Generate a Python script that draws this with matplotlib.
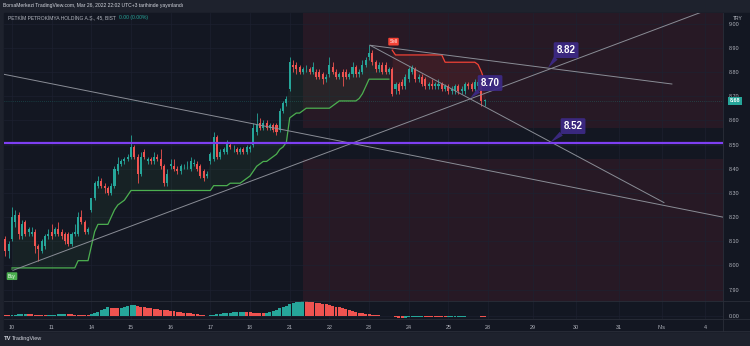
import numpy as np
import matplotlib.pyplot as plt
from matplotlib.patches import Rectangle
from matplotlib.lines import Line2D

plt.rcParams['font.family'] = ['Liberation Sans', 'DejaVu Sans']

# bar index: -2,-1 = 9 Mart, then 12 bars (45 dk) per trading day 10..25 Mart
bars = np.arange(-2, 144)

opens = [
    8.11, 8.06,
    8.11, 8.18, 8.21, 8.12, 8.18, 8.14, 8.13, 8.14, 8.08, 8.06, 8.08, 8.12,  # 10
    8.14, 8.13, 8.15, 8.14, 8.13, 8.13, 8.09, 8.13, 8.13, 8.20, 8.18, 8.14,  # 11
    8.23, 8.28, 8.33, 8.35, 8.33, 8.32, 8.30, 8.33, 8.39, 8.42, 8.43, 8.44,  # 14
    8.45, 8.49, 8.45, 8.38, 8.47, 8.43, 8.44, 8.43, 8.45, 8.44, 8.41, 8.34,  # 15
    8.41, 8.41, 8.40, 8.39, 8.41, 8.41, 8.40, 8.42, 8.42, 8.41, 8.39, 8.37,  # 16
    8.43, 8.44, 8.53, 8.45, 8.47, 8.47, 8.50, 8.48, 8.48, 8.47, 8.48, 8.47,  # 17
    8.48, 8.50, 8.55, 8.59, 8.57, 8.59, 8.57, 8.58, 8.58, 8.56, 8.64, 8.67,  # 18
    8.73, 8.83, 8.83, 8.82, 8.80, 8.81, 8.81, 8.80, 8.80, 8.80, 8.79, 8.77,  # 21
    8.79, 8.82, 8.80, 8.78, 8.80, 8.80, 8.78, 8.79, 8.82, 8.79, 8.80, 8.83,  # 22
    8.86, 8.88, 8.84, 8.81, 8.83, 8.83, 8.80, 8.81, 8.73, 8.75, 8.76, 8.74,  # 23
    8.77, 8.80, 8.81, 8.77, 8.78, 8.77, 8.74, 8.75, 8.74, 8.74, 8.75, 8.73,  # 24
    8.74, 8.72, 8.72, 8.74, 8.72, 8.72, 8.75, 8.75, 8.73, 8.74, 8.74, 8.68,  # 25
]
highs = [
    8.12, 8.10,
    8.24, 8.23, 8.22, 8.19, 8.19, 8.16, 8.16, 8.15, 8.09, 8.11, 8.13, 8.15,
    8.17, 8.16, 8.18, 8.15, 8.14, 8.14, 8.14, 8.17, 8.22, 8.23, 8.19, 8.16,
    8.28, 8.35, 8.37, 8.36, 8.34, 8.33, 8.34, 8.41, 8.45, 8.44, 8.45, 8.46,
    8.54, 8.50, 8.46, 8.47, 8.48, 8.45, 8.45, 8.47, 8.46, 8.48, 8.42, 8.40,
    8.44, 8.44, 8.41, 8.42, 8.42, 8.43, 8.45, 8.44, 8.43, 8.42, 8.40, 8.39,
    8.47, 8.55, 8.54, 8.48, 8.49, 8.52, 8.51, 8.50, 8.49, 8.49, 8.49, 8.50,
    8.50, 8.59, 8.63, 8.61, 8.60, 8.60, 8.59, 8.59, 8.59, 8.65, 8.68, 8.70,
    8.86, 8.85, 8.84, 8.83, 8.82, 8.83, 8.82, 8.84, 8.81, 8.81, 8.80, 8.79,
    8.86, 8.84, 8.81, 8.80, 8.81, 8.81, 8.80, 8.84, 8.83, 8.81, 8.85, 8.86,
    8.91, 8.89, 8.85, 8.84, 8.84, 8.84, 8.82, 8.82, 8.76, 8.76, 8.77, 8.79,
    8.82, 8.83, 8.82, 8.79, 8.79, 8.78, 8.76, 8.77, 8.76, 8.77, 8.76, 8.75,
    8.75, 8.74, 8.75, 8.75, 8.74, 8.76, 8.76, 8.76, 8.77, 8.77, 8.75, 8.69,
]
lows = [
    8.04, 8.03,
    8.10, 8.16, 8.11, 8.11, 8.12, 8.12, 8.12, 8.05, 8.02, 8.05, 8.07, 8.11,
    8.11, 8.12, 8.12, 8.11, 8.09, 8.08, 8.08, 8.12, 8.12, 8.17, 8.13, 8.13,
    8.22, 8.27, 8.32, 8.32, 8.30, 8.29, 8.29, 8.32, 8.38, 8.41, 8.42, 8.43,
    8.44, 8.44, 8.34, 8.37, 8.44, 8.42, 8.42, 8.42, 8.43, 8.40, 8.33, 8.33,
    8.40, 8.39, 8.38, 8.38, 8.40, 8.40, 8.39, 8.41, 8.39, 8.36, 8.35, 8.36,
    8.42, 8.43, 8.44, 8.44, 8.46, 8.46, 8.48, 8.47, 8.46, 8.46, 8.46, 8.46,
    8.47, 8.49, 8.54, 8.56, 8.56, 8.56, 8.56, 8.55, 8.54, 8.55, 8.63, 8.66,
    8.72, 8.80, 8.79, 8.79, 8.79, 8.80, 8.79, 8.79, 8.77, 8.77, 8.75, 8.76,
    8.78, 8.79, 8.77, 8.77, 8.74, 8.77, 8.77, 8.78, 8.78, 8.78, 8.79, 8.82,
    8.85, 8.83, 8.80, 8.80, 8.79, 8.79, 8.79, 8.70, 8.71, 8.71, 8.73, 8.73,
    8.76, 8.79, 8.76, 8.76, 8.74, 8.73, 8.73, 8.73, 8.73, 8.73, 8.72, 8.72,
    8.71, 8.71, 8.71, 8.71, 8.71, 8.71, 8.73, 8.72, 8.72, 8.73, 8.66, 8.66,
]
closes = [
    8.06, 8.09,
    8.20, 8.21, 8.13, 8.17, 8.13, 8.15, 8.14, 8.08, 8.07, 8.10, 8.12, 8.13,
    8.12, 8.15, 8.13, 8.12, 8.10, 8.09, 8.13, 8.14, 8.20, 8.18, 8.14, 8.15,
    8.28, 8.34, 8.35, 8.33, 8.32, 8.30, 8.33, 8.40, 8.42, 8.43, 8.44, 8.45,
    8.49, 8.45, 8.38, 8.45, 8.45, 8.44, 8.43, 8.45, 8.44, 8.41, 8.34, 8.38,
    8.42, 8.40, 8.39, 8.41, 8.41, 8.41, 8.43, 8.42, 8.40, 8.37, 8.36, 8.38,
    8.46, 8.53, 8.45, 8.47, 8.48, 8.51, 8.49, 8.48, 8.47, 8.48, 8.47, 8.49,
    8.49, 8.57, 8.58, 8.57, 8.59, 8.57, 8.58, 8.56, 8.55, 8.64, 8.67, 8.69,
    8.84, 8.82, 8.81, 8.80, 8.81, 8.81, 8.80, 8.82, 8.78, 8.78, 8.77, 8.78,
    8.83, 8.80, 8.78, 8.79, 8.78, 8.78, 8.79, 8.82, 8.79, 8.80, 8.83, 8.85,
    8.88, 8.84, 8.81, 8.83, 8.80, 8.80, 8.81, 8.71, 8.75, 8.72, 8.74, 8.78,
    8.81, 8.82, 8.77, 8.78, 8.75, 8.74, 8.75, 8.74, 8.75, 8.75, 8.73, 8.74,
    8.72, 8.73, 8.74, 8.72, 8.73, 8.75, 8.74, 8.73, 8.76, 8.76, 8.68, 8.68,
]

# supertrend: green (bars 0..114), red (bars 115..143)
st_green = ([7.99] * 20 + [8.02] * 4 + [8.08, 8.14] + [8.17] * 4
            + [8.20, 8.23, 8.25, 8.26, 8.27, 8.29] + [8.31] * 25 + [8.33] * 5 + [8.34] * 4
            + [8.35, 8.36, 8.37, 8.39, 8.41, 8.42, 8.43, 8.43, 8.44, 8.45, 8.46, 8.48, 8.49, 8.51]
            + [8.61, 8.62, 8.63, 8.63, 8.64, 8.65] + [8.65] * 7 + [8.66, 8.67] + [8.68] * 6
            + [8.69, 8.71, 8.74] + [8.77] * 7)
st_red = [8.89] + [8.87] * 15 + [8.84] * 10 + [8.83, 8.80, 8.76]

# alt panel histogram
hist = [1.5, 1.0,
        1.2, 1.5, 1.8, 2.0, 2.2, 2.0, 1.8, 1.6, 1.4, 1.2, 1.0,
        1.2, 1.4, 1.6, 1.8, 2.0, 2.1, 2.0, 1.8, 1.6, 1.5, 1.3, 1.2, 1.1,
        1.8, 3.0, 4.5, 6.5, 8.5, 10.0, 9.5, 9.0, 8.8, 9.5, 10.5, 11.5, 12.5, 13.0,
        12.0, 11.0, 10.2, 9.5, 9.0, 8.5, 8.0, 7.5, 7.0, 6.5, 6.0, 5.5, 5.0, 4.5, 4.0,
        3.5, 3.0, 2.5, 2.0, 1.5, 0.8, 0.3,
        0.8, 1.5, 2.0, 2.5, 3.0, 3.5, 4.0, 4.3, 4.6, 4.8, 5.0,
        4.6, 4.2, 3.8, 3.5, 3.2, 3.0,
        3.5, 4.5, 6.0, 7.5, 9.0, 10.5, 12.0, 13.5, 15.0, 16.0, 16.8, 17.3,
        17.0, 16.5, 16.0, 15.5, 15.0, 14.5, 14.0, 13.0, 12.0, 11.0,
        10.0, 9.0, 8.0, 7.0, 6.0, 5.0, 4.0, 3.2, 2.5, 2.0,
        1.6, 1.2, 0.8, 0.5, 0.3, 0.1,
        -0.5, -1.2, -1.8, -2.2,
        -1.9, -1.6, -1.3, -1.0, -0.8, -0.6,
        -0.8, -1.0, -1.2, -1.3, -1.4, -1.5, -1.5,
        -1.3, -1.1, -0.9, -0.8, -0.7, -0.6, -0.5, -0.4, -0.3, -0.3,
        -0.8, -1.2]

# drawings
trend_lines = [((-2.4, 8.79), (215.0, 8.20)),
               ((0.3, 7.98), (215.0, 9.08)),
               ((108.3, 8.91), (197.2, 8.26)),
               ((108.3, 8.91), (199.6, 8.75))]
level_line = 8.505
zone_left = 88
zones = [(8.568, 9.10), (7.80, 8.440)]
callouts = [('8.82', 167.6, 8.89, 162.1, 8.816),
            ('8.52', 169.7, 8.576, 162.7, 8.507),
            ('8.70', 144.6, 8.754, 138.5, 8.69)]
last_price = 8.68

day_ticks = [0, 12, 24, 36, 48, 60, 72, 84, 96, 108, 120, 132, 144, 157.6, 170.6, 183.6, 196.6, 209.6]
day_labels = ['10', '11', '14', '15', '16', '17', '18', '21', '22', '23', '24', '25', '28', '29', '30', '31', 'Nis', '4']

UP = '#26a69a'
DOWN = '#ef5350'
BG = '#131722'
GRID = '#1d2130'
TXT = '#b2b5be'

o = np.array(opens); h = np.array(highs); l = np.array(lows); c = np.array(closes)
cols = np.where(c >= o, UP, DOWN)

fig = plt.figure(figsize=(7.5, 3.46), dpi=100, facecolor='#1e222d')
W, H = 750, 346
fig.patches.append(Rectangle((4 / W, 1 - 331 / H), 746 / W, 318 / H, transform=fig.transFigure,
                             color=BG, zorder=-5))

ax = fig.add_axes([4 / W, 1 - 301 / H, 719 / W, 288 / H])
axh = fig.add_axes([4 / W, 1 - 319 / H, 719 / W, 18 / H], sharex=ax)

for a in (ax, axh):
    a.set_facecolor(BG)
    for s in a.spines.values():
        s.set_visible(False)
    a.set_xticks(day_ticks)
    a.grid(color=GRID, lw=0.5)
    a.set_axisbelow(True)

ax.set_xlim(-2.42, 215.06)
ax.set_ylim(7.8533, 9.0434)

# zones
for lo, hi in zones:
    ax.add_patch(Rectangle((zone_left, lo), 200, hi - lo, color='#f23645', alpha=0.09, lw=0, zorder=0.5))

# candles
ax.vlines(bars, l, h, colors=cols, lw=0.6, zorder=3)
body = np.maximum(np.abs(c - o), 0.003)
ax.bar(bars, body, bottom=np.minimum(o, c), width=0.62, color=cols, lw=0, zorder=3)

# supertrend
mid = (o + c) / 2
ax.plot(bars[2:117], st_green, color='#4caf50', lw=0.9, zorder=4)
ax.fill_between(bars[2:117], st_green, mid[2:117], color='#4caf50', alpha=0.08, lw=0, zorder=2)
ax.plot(bars[117:], st_red, color='#f44336', lw=0.9, zorder=4)
ax.fill_between(bars[117:], st_red, mid[117:], color='#f44336', alpha=0.10, lw=0, zorder=2)

ax.annotate('Buy', xy=(0, 7.988), xytext=(0, 7.956), ha='center', va='center', fontsize=3.3,
            color='white', zorder=6,
            bbox=dict(boxstyle='round,pad=0.3,rounding_size=0.2', fc='#4caf50', ec='none'),
            arrowprops=dict(arrowstyle='wedge,tail_width=0.5', fc='#4caf50', ec='none'))
ax.annotate('Sell', xy=(115.4, 8.893), xytext=(115.4, 8.925), ha='center', va='center', fontsize=3.3,
            color='white', zorder=6,
            bbox=dict(boxstyle='round,pad=0.3,rounding_size=0.2', fc='#f44336', ec='none'),
            arrowprops=dict(arrowstyle='wedge,tail_width=0.5', fc='#f44336', ec='none'))

# drawings
for (x0, y0), (x1, y1) in trend_lines:
    ax.plot([x0, x1], [y0, y1], color='#8a8d96', lw=0.7, zorder=5)
ax.axhline(level_line, color='#7e3ff2', lw=1.6, zorder=5)
ax.axhline(last_price, color=UP, lw=0.5, ls=(0, (1, 2)), alpha=0.5, zorder=1)

for txt, tx, ty, px, py in callouts:
    ax.annotate(txt, xy=(px, py), xytext=(tx, ty), ha='center', va='center', fontsize=7,
                fontweight='bold', color='white', zorder=7,
                bbox=dict(boxstyle='round,pad=0.3,rounding_size=0.15', fc='#3d2a86', ec='none', alpha=0.92),
                arrowprops=dict(arrowstyle='wedge,tail_width=0.5', fc='#3d2a86', ec='none',
                                relpos=(0.12, 0.1), shrinkA=0, shrinkB=0, alpha=0.92))

# price scale
ax.yaxis.tick_right()
ax.set_yticks(np.arange(7.9, 9.01, 0.1))
ax.set_yticklabels(['%.2f' % v for v in np.arange(7.9, 9.01, 0.1)])
ax.tick_params(axis='y', length=0, pad=3.8, labelsize=3.9, colors=TXT)
ax.tick_params(axis='x', length=0, labelbottom=False)
ax.text((735 - 4) / 719, last_price, '%.2f' % last_price, transform=ax.get_yaxis_transform(),
        ha='center', va='center', fontsize=3.9, color='white', fontweight='bold', zorder=8, clip_on=False,
        bbox=dict(boxstyle='square,pad=0.35', fc=UP, ec='none'))

# alt panel
hcols = [DOWN] + [UP if hist[k] > hist[k - 1] else DOWN for k in range(1, len(hist))]
axh.bar(bars, hist, width=0.9, color=hcols, lw=0)
axh.set_ylim(-3.5, 17.5)
axh.yaxis.tick_right()
axh.set_yticks([0])
axh.set_yticklabels(['0.00'])
axh.tick_params(axis='y', length=0, pad=3.8, labelsize=3.9, colors=TXT)
axh.set_xticklabels(day_labels)
axh.tick_params(axis='x', length=0, pad=4.0, labelsize=3.9, colors=TXT)

# separators
for (x0, y0, x1, y1) in [(4, 301, 750, 301), (4, 319, 750, 319), (723, 13, 723, 331), (4, 331, 750, 331)]:
    fig.lines.append(Line2D([x0 / W, x1 / W], [1 - y0 / H, 1 - y1 / H], transform=fig.transFigure,
                            color='#2a2e39', lw=0.6))

# texts
fig.text(3 / W, 1 - 5.5 / H, 'BorsaMerkezi TradingView.com, Mar 26, 2022 22:02 UTC+3 tarihinde yayınlandı',
         fontsize=3.6, color='#d1d4dc', va='center')
fig.text(8 / W, 1 - 18 / H, 'PETKİM PETROKİMYA HOLDİNG A.Ş., 45, BIST', fontsize=3.6, color=TXT, va='center')
fig.text(119 / W, 1 - 18 / H, '0.00 (0.00%)', fontsize=3.6, color=UP, va='center')
fig.text(738 / W, 1 - 18 / H, 'TRY', fontsize=3.6, color=TXT, va='center', ha='center')
fig.text(4 / W, 1 - 338.5 / H, 'TV', fontsize=4.2, color='#d1d4dc', va='center', fontweight='bold')
fig.text(12 / W, 1 - 338.5 / H, 'TradingView', fontsize=4.0, color='#d1d4dc', va='center')

fig.savefig('out.png', dpi=100, facecolor=fig.get_facecolor())
